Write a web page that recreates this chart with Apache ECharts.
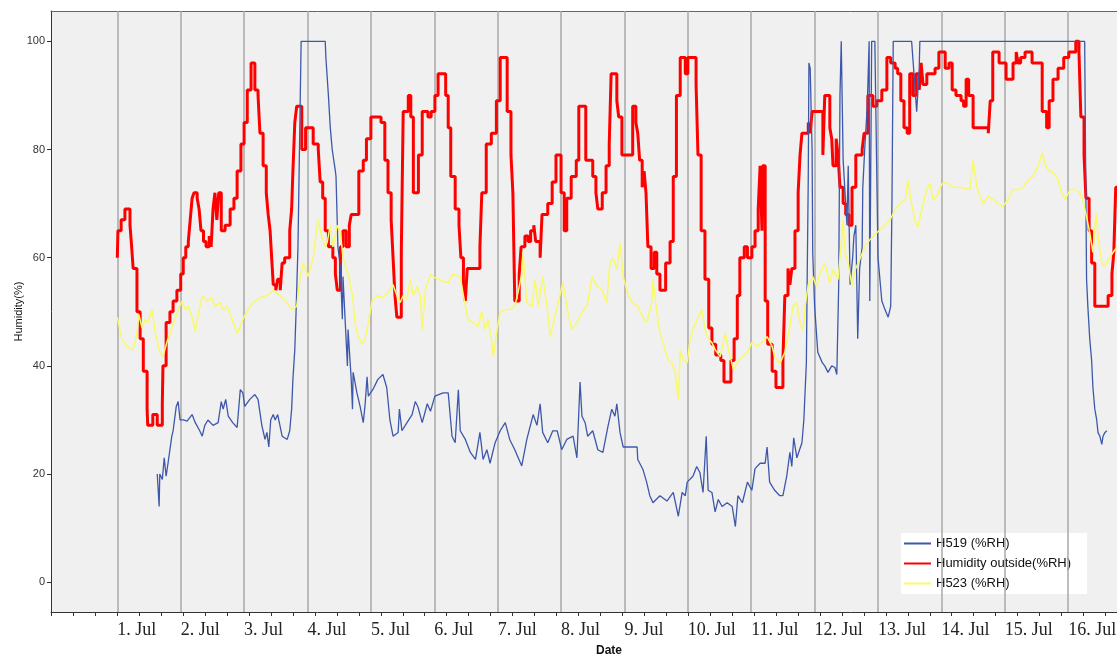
<!DOCTYPE html>
<html><head><meta charset="utf-8">
<script src="https://cdn.jsdelivr.net/npm/echarts@6/dist/echarts.min.js"></script>
<style>html,body{margin:0;padding:0;background:#fff}#c{width:1117px;height:658px}</style>
</head><body><div id="c"></div>
<script>
// x values: days since 1 Jul 00:00
const dayLabels = ['1. Jul','2. Jul','3. Jul','4. Jul','5. Jul','6. Jul','7. Jul','8. Jul','9. Jul','10. Jul','11. Jul','12. Jul','13. Jul','14. Jul','15. Jul','16. Jul'];
const dayStarts = [0,1,2,3,4,5,6,7,8,9,10,11,12,13,14,15];
const yTicks = [0,20,40,60,80,100];
const seriesNames = ['H519 (%RH)','Humidity outside(%RH)','H523 (%RH)'];

const h519 = [[0.63,20],[0.66,14],[0.67,20],[0.71,19],[0.74,23],[0.77,19.6],[0.80,22],[0.86,27],[0.88,28],[0.93,32.5],[0.96,33.4],[0.99,30],
[1.04,30],[1.10,29.8],[1.18,31],[1.23,29.5],[1.30,28],[1.34,27],[1.38,29],[1.43,30],[1.51,29],[1.59,29.5],[1.64,33.4],[1.67,32],[1.71,33.8],[1.75,30.7],[1.82,29.5],[1.89,28.6],[1.94,35.6],[1.98,35],
[2.01,32.5],[2.09,33.8],[2.17,34.7],[2.22,33.8],[2.28,29],[2.33,26.4],[2.36,27.7],[2.39,25],[2.42,30],[2.46,31],[2.49,30],[2.53,31],[2.60,27],[2.68,26.4],[2.72,28],[2.75,32],[2.77,37.5],[2.80,43],[2.82,50],[2.85,62],[2.88,85],[2.90,100],
[3.28,100],[3.29,97],[3.33,90],[3.36,84],[3.39,80],[3.44,76],[3.45,75],[3.48,62],[3.52,58],[3.55,48.6],[3.56,56.5],[3.63,40],[3.64,46.7],[3.69,37.5],[3.71,32],[3.72,38.8],[3.78,35],[3.83,32.5],[3.88,29.5],[3.91,33],[3.94,38],[3.96,34.4],
[4.03,35.6],[4.11,37.5],[4.19,38.4],[4.25,36],[4.30,30],[4.35,27],[4.43,27.7],[4.45,32],[4.49,28],[4.57,29.5],[4.65,31],[4.70,33.4],[4.74,32.5],[4.81,29.5],[4.89,33],[4.94,31.6],
[5.01,34.4],[5.14,35],[5.22,35],[5.28,27],[5.33,25.8],[5.38,35.6],[5.41,28],[5.49,26.4],[5.57,24],[5.65,22.7],[5.72,27.7],[5.77,22.7],[5.83,24.5],[5.88,22],[5.96,25.8],
[6.04,28],[6.12,29.5],[6.19,26.4],[6.27,24.5],[6.38,21.5],[6.46,26.4],[6.56,31],[6.62,29],[6.67,33],[6.71,27.7],[6.79,25.8],[6.87,28],[6.94,28],
[7.01,24.5],[7.09,26.4],[7.19,27],[7.25,23],[7.30,37],[7.33,30.7],[7.38,29.5],[7.42,27],[7.50,28],[7.58,24.5],[7.66,24],[7.74,28.8],[7.80,32],[7.85,30.7],[7.88,33],[7.93,27.7],[7.98,25],
[8.09,25],[8.20,25],[8.21,22.7],[8.29,20.9],[8.35,18.5],[8.40,16],[8.45,14.7],[8.56,16],[8.67,15],[8.77,16.6],[8.85,12.2],[8.91,16.6],[8.96,16],[8.99,18.5],
[9.08,19.6],[9.14,21.4],[9.19,20.3],[9.24,16.6],[9.29,27],[9.32,17],[9.38,16.6],[9.43,13],[9.48,15.3],[9.54,14],[9.62,14.7],[9.70,14],[9.75,10.3],[9.79,16],[9.86,14.7],[9.94,18.5],
[10.01,17],[10.06,21],[10.14,22],[10.22,22],[10.25,25],[10.29,18.5],[10.37,17],[10.45,16],[10.50,16],[10.56,19.6],[10.61,24],[10.64,21.4],[10.67,26.7],[10.72,23],[10.75,22.7],[10.80,25.8],[10.83,30],[10.87,40.6],[10.88,53],[10.90,75],[10.91,96],[10.93,95],[10.96,80],[10.97,61],
[11.00,51],[11.05,42.5],[11.12,40.6],[11.16,40],[11.21,38.8],[11.27,40],[11.32,39.7],[11.35,38.4],[11.38,55],[11.40,90],[11.42,100],[11.45,78],[11.51,66],[11.53,77],[11.56,55],[11.60,60],[11.62,64],[11.65,66],[11.68,45],[11.71,58],[11.75,62],[11.76,73],[11.79,80],[11.83,88],[11.86,100],[11.87,52],[11.90,100],[11.95,100],
[12.00,60],[12.06,52],[12.11,50.4],[12.16,49],[12.20,51],[12.22,70],[12.24,100],[12.53,100],[12.58,92],[12.61,87],[12.65,95],[12.66,100],
[15.26,100],[15.28,70],[15.29,56],[15.31,51],[15.34,45],[15.37,41],[15.39,36],[15.42,32],[15.45,30],[15.47,27.7],[15.50,27],[15.53,25.5],[15.55,27],[15.58,27.7],[15.61,28]];

const outside = [[0.00,60],[0.01,65],[0.06,67],[0.12,69],[0.20,66],[0.22,63],[0.25,58],[0.31,50],[0.36,45],[0.41,39],[0.47,32],[0.48,29],[0.56,31],[0.63,29],[0.71,33],[0.72,40],[0.77,48],[0.83,50],[0.88,52],[0.94,54],
[1.00,57],[1.04,60],[1.08,62],[1.12,63],[1.15,67],[1.18,71],[1.21,72],[1.26,71],[1.29,69],[1.32,65],[1.36,63],[1.40,62],[1.45,64],[1.48,62],[1.51,69],[1.54,72],[1.57,67],[1.60,72],[1.64,65],[1.70,66],[1.78,69],[1.84,71],[1.89,76],[1.95,81],
[2.00,85],[2.05,91],[2.11,96],[2.17,91],[2.22,90],[2.25,83],[2.30,77],[2.35,72],[2.38,68],[2.41,65],[2.44,59],[2.46,55],[2.50,54],[2.53,56],[2.57,54],[2.60,59],[2.64,60],[2.72,65],[2.75,69],[2.77,76],[2.80,85],[2.83,88],[2.91,80],[2.97,84],
[3.09,81],[3.17,80],[3.20,74],[3.24,71],[3.28,65],[3.33,62],[3.40,60],[3.44,57],[3.47,54],[3.52,62],[3.56,65],[3.61,62],[3.66,66],[3.69,68],[3.81,76],[3.88,78],[3.93,82],
[4.00,86],[4.16,85],[4.22,78],[4.27,72],[4.32,67],[4.35,60],[4.38,53],[4.41,49],[4.48,61],[4.51,87],[4.59,90],[4.63,86],[4.67,72],[4.75,79],[4.81,87],[4.90,86],[4.95,87],
[5.01,90],[5.06,94],[5.18,90],[5.22,84],[5.26,75],[5.33,69],[5.39,66],[5.42,60],[5.46,55],[5.49,52],[5.52,58],[5.72,62],[5.75,72],[5.82,81],[5.90,83],[5.98,89],
[6.04,97],[6.15,87],[6.21,79],[6.24,72],[6.27,52],[6.34,57],[6.37,62],[6.43,64],[6.48,63],[6.52,65],[6.57,66],[6.60,63],[6.67,60],[6.70,68],[6.79,70],[6.86,74],[6.92,79],
[7.00,72],[7.05,65],[7.09,71],[7.16,75],[7.24,78],[7.28,88],[7.39,78],[7.50,75],[7.55,72],[7.58,69],[7.65,72],[7.71,77],[7.76,81],[7.79,94],[7.88,89],[7.91,86],[7.96,79],
[8.13,88],[8.18,85],[8.21,83],[8.24,78],[8.28,73],[8.31,76],[8.34,72],[8.37,62],[8.42,58],[8.47,61],[8.51,57],[8.56,54],[8.65,59],[8.72,63],[8.77,75],[8.82,90],[8.88,97],[8.96,94],
[9.00,97],[9.13,92],[9.16,79],[9.21,65],[9.27,56],[9.33,47],[9.38,44],[9.44,42],[9.52,41],[9.57,37],[9.68,41],[9.73,45],[9.78,53],[9.82,60],[9.89,62],[9.94,60],
[10.01,62],[10.06,65],[10.11,69],[10.14,77],[10.17,65],[10.18,77],[10.22,52],[10.26,44],[10.33,39],[10.39,36],[10.50,41],[10.53,53],[10.58,58],[10.61,55],[10.64,58],[10.69,65],[10.74,72],[10.77,79],[10.80,83],[10.90,85],[10.93,83],[10.96,87],
[11.13,79],[11.16,90],[11.24,84],[11.27,82],[11.29,77],[11.34,82],[11.37,79],[11.40,73],[11.45,70],[11.49,68],[11.54,66],[11.59,73],[11.65,79],[11.75,80],[11.78,83],[11.84,90],[11.92,88],[11.98,89],
[12.06,91],[12.14,97],[12.20,96],[12.27,95],[12.31,94],[12.36,89],[12.41,84],[12.46,83],[12.50,94],[12.55,90],[12.60,94],[12.65,91],[12.68,96],[12.71,92],[12.77,94],[12.90,95],[12.96,98],
[13.06,95],[13.12,96],[13.17,91],[13.23,90],[13.31,89],[13.35,88],[13.39,93],[13.43,90],[13.50,84],[13.74,83],[13.77,89],[13.81,98],[13.91,96],
[14.02,93],[14.13,96],[14.18,98],[14.21,96],[14.25,97],[14.32,98],[14.43,96],[14.59,87],[14.66,84],[14.70,89],[14.76,93],[14.84,95],[14.93,97],
[15.01,98],[15.12,100],[15.17,98],[15.20,86],[15.25,79],[15.28,71],[15.33,65],[15.37,59],[15.42,51],[15.63,53],[15.69,57],[15.72,61],[15.75,73],[15.80,73]];

const h523 = [[0.00,49],[0.07,45],[0.15,43.6],[0.25,43],[0.31,46],[0.34,49.5],[0.39,47],[0.44,48.6],[0.48,48],[0.55,50.4],[0.59,46.7],[0.67,42.5],[0.72,41.7],[0.78,44.3],[0.83,46],[0.91,48.6],[0.96,50.4],
[1.02,52],[1.07,50.4],[1.12,51],[1.18,49],[1.23,46.4],[1.27,49],[1.34,53],[1.42,52],[1.49,52.6],[1.54,51],[1.62,51.7],[1.67,50.4],[1.73,51],[1.81,48.6],[1.89,46],[1.94,47.3],[1.98,48.6],
[2.06,50.4],[2.14,51.7],[2.25,52.6],[2.36,53],[2.46,54],[2.57,53],[2.68,51.7],[2.75,50.4],[2.83,51],[2.88,56],[2.93,59],
[3.01,56.5],[3.09,60],[3.14,65],[3.17,67],[3.21,64.6],[3.28,62],[3.31,62.8],[3.36,66],[3.40,62],[3.47,66],[3.52,64.6],[3.56,60],[3.64,57],[3.71,53],[3.75,48],[3.80,45.4],[3.86,44],[3.91,45],[3.96,48],
[4.02,52],[4.10,53],[4.19,52.6],[4.27,53.5],[4.35,55],[4.41,53],[4.46,51.7],[4.51,53],[4.57,52.3],[4.62,56],[4.67,53],[4.73,54.7],[4.78,53],[4.81,46.7],[4.86,54],[4.94,57],[4.98,56.5],
[5.06,56],[5.14,55.6],[5.22,55.4],[5.30,57],[5.41,56.5],[5.46,53],[5.53,48.6],[5.61,48],[5.69,47.3],[5.75,50],[5.80,46.7],[5.85,48.6],[5.91,44.3],[5.93,41.7],[5.99,46.7],
[6.04,50],[6.12,50.4],[6.19,50.4],[6.27,51],[6.32,53.5],[6.38,57],[6.40,61],[6.46,51.7],[6.54,51],[6.59,56],[6.64,51],[6.71,56.5],[6.78,51],[6.83,45.4],[6.90,49],[6.98,53],
[7.03,55.4],[7.09,51],[7.17,46.7],[7.25,48],[7.33,50],[7.41,51],[7.49,56.5],[7.57,54.7],[7.65,54],[7.72,51.7],[7.77,59],[7.82,60],[7.88,57.8],[7.93,62.8],[7.98,56.5],
[8.06,53],[8.13,51.7],[8.21,51],[8.29,49],[8.35,48],[8.43,51.7],[8.45,56],[8.51,50],[8.56,46],[8.61,44.3],[8.69,41],[8.75,40.6],[8.80,38.8],[8.85,33.8],[8.88,43],[8.93,41],[8.99,40.6],
[9.03,44.3],[9.08,46.7],[9.16,49],[9.22,50.4],[9.27,46.7],[9.32,45],[9.38,44.3],[9.43,43],[9.51,41.7],[9.56,44.3],[9.59,46],[9.64,43],[9.72,39.3],[9.78,40.6],[9.86,41.7],[9.94,42.5],
[10.01,44.3],[10.09,43.6],[10.17,44.3],[10.25,45.4],[10.33,43.6],[10.37,41.7],[10.45,40.4],[10.53,42.5],[10.61,47.3],[10.66,51],[10.72,51.7],[10.77,48],[10.82,46.5],[10.85,51],[10.90,55],[10.97,56.5],
[11.03,54.7],[11.08,57],[11.16,59],[11.24,55.4],[11.29,57.8],[11.37,56],[11.45,67],[11.48,61],[11.53,59],[11.59,54.7],[11.64,57.8],[11.71,59.6],[11.79,62],[11.87,63.3],[11.98,64.6],
[12.08,65.7],[12.19,67],[12.27,68.9],[12.35,70],[12.43,70.7],[12.47,74.4],[12.53,70],[12.58,67],[12.63,65.7],[12.69,68.9],[12.77,72.6],[12.82,73.8],[12.87,70.7],[12.93,71.3],[12.98,73],
[13.02,73.8],[13.10,73.8],[13.18,73],[13.29,73],[13.37,72.8],[13.45,72.6],[13.50,78],[13.56,73],[13.61,71.3],[13.66,70],[13.74,71.3],[13.82,70.7],[13.90,70],[13.97,69.5],
[14.05,70.7],[14.13,72.6],[14.21,72.6],[14.29,73],[14.37,74.4],[14.44,75],[14.52,76.8],[14.59,79.4],[14.63,77.5],[14.68,76.3],[14.76,75.7],[14.84,74.4],[14.90,72],[14.95,70.7],
[15.03,72.6],[15.11,72.6],[15.18,72],[15.23,70.7],[15.30,67],[15.34,64.6],[15.39,61],[15.44,68.3],[15.47,64],[15.53,59],[15.58,58.4],[15.63,59.6],[15.71,61],[15.77,62]];

const xMin = -1.046, xMax = 15.77;
const tickStep = 0.3464;
const xTicks = [];
for (let i = -3; i * tickStep <= xMax; i++) xTicks.push(+(i * tickStep).toFixed(4));

const sans = 'Liberation Sans, Arial, sans-serif';
const chart = echarts.init(document.getElementById('c'), null, {renderer: 'canvas'});
chart.setOption({
  animation: false,
  backgroundColor: '#ffffff',
  grid: {left: 51, top: 11, right: 0, bottom: 46, show: true, backgroundColor: '#f0f0f0', borderWidth: 0,
         containLabel: false, outerBoundsMode: 'none'},
  legend: {
    data: seriesNames, orient: 'vertical', left: 901, top: 533,
    backgroundColor: '#ffffff', padding: [4, 16, 4, 2], itemWidth: 27, itemHeight: 12, itemGap: 7,
    itemStyle: {opacity: 0},
    textStyle: {fontFamily: sans, fontSize: 13, color: '#111'}
  },
  xAxis: [{
    type: 'value', min: xMin, max: xMax, position: 'bottom',
    name: 'Date', nameLocation: 'middle', nameGap: 33, nameMoveOverlap: false,
    nameTextStyle: {fontFamily: sans, fontSize: 12, fontWeight: 'bold', color: '#111', padding: [0, 0, 0, 50]},
    axisLine: {show: true, onZero: false, lineStyle: {color: '#333', width: 1}},
    axisTick: {show: true, customValues: xTicks, length: 4, lineStyle: {color: '#333'}},
    axisLabel: {customValues: dayStarts, align: 'left', margin: 9,
      fontFamily: 'Liberation Serif, Times New Roman, serif', fontSize: 18, color: '#222',
      formatter: v => dayLabels[Math.round(v)]},
    splitLine: {show: false}
  }, {
    type: 'value', min: xMin, max: xMax, position: 'top',
    axisLine: {show: true, onZero: false, lineStyle: {color: '#666', width: 1}},
    axisTick: {show: false}, axisLabel: {show: false}, splitLine: {show: false}
  }],
  yAxis: {
    type: 'value', min: -5.5, max: 105.6,
    name: 'Humidity(%)', nameLocation: 'middle', nameGap: 27, nameRotate: 90, nameMoveOverlap: false,
    nameTextStyle: {fontFamily: sans, fontSize: 11, color: '#111'},
    axisLine: {show: true, onZero: false, lineStyle: {color: '#333', width: 1}},
    axisTick: {show: true, customValues: yTicks, length: 4, lineStyle: {color: '#333'}},
    axisLabel: {customValues: yTicks, margin: 6, fontFamily: sans, fontSize: 11, color: '#333'},
    splitLine: {show: false}
  },
  series: [
    {name: 'dayLines', type: 'line', data: [[xMin, null]], symbol: 'none', silent: true, z: 1,
     markLine: {silent: true, symbol: ['none','none'], label: {show: false}, animation: false,
       lineStyle: {color: '#a8a8a8', width: 1.5, type: 'solid'},
       data: dayStarts.map(d => ({xAxis: d}))}},
    {name: seriesNames[1], type: 'line', data: outside, step: 'end', symbol: 'none', showSymbol: false, z: 10,
     lineStyle: {color: '#ff0000', width: 3}, itemStyle: {color: '#ff0000'}},
    {name: seriesNames[0], type: 'line', data: h519, symbol: 'none', showSymbol: false, z: 11,
     lineStyle: {color: '#3d58aa', width: 1.3}, itemStyle: {color: '#3d58aa'}},
    {name: seriesNames[2], type: 'line', data: h523, symbol: 'none', showSymbol: false, z: 12,
     lineStyle: {color: '#f9f96a', width: 1.5}, itemStyle: {color: '#f9f96a'}}
  ]
});
</script></body></html>
